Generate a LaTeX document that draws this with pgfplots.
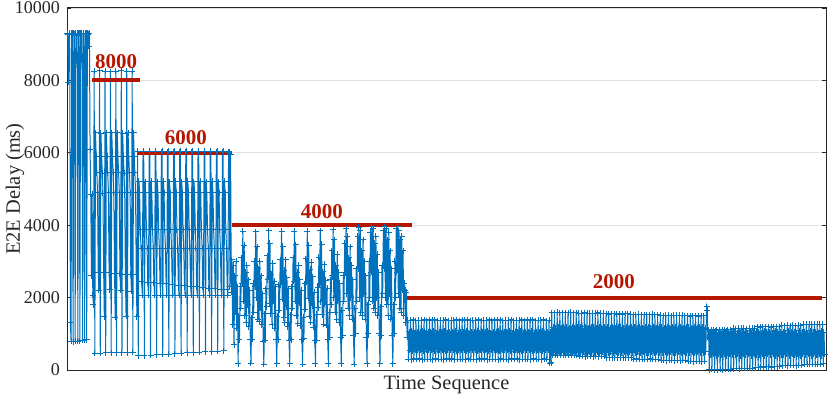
\documentclass[border=0pt]{standalone}
\usepackage{fontspec}
\setmainfont{Liberation Serif}
\usepackage{pgfplots}
\pgfplotsset{compat=1.18}
\definecolor{mblue}{RGB}{0,114,189}
\definecolor{mred}{RGB}{181,22,0}
\definecolor{axgray}{RGB}{38,38,38}
\begin{document}
\begin{tikzpicture}
\path[use as bounding box] (0,0) rectangle (415pt,201pt);
\begin{axis}[
 at={(33.5pt,16pt)}, anchor=south west, scale only axis,
 width=379.5pt, height=181pt,
 xmin=0, xmax=1118, ymin=0, ymax=10000,
 xtick=\empty, ytick={0,2000,4000,6000,8000,10000},
 scaled y ticks=false,
 /pgf/number format/assume math mode=true,
 /pgf/number format/1000 sep={},
 yticklabel style={font=\fontsize{9}{10}\selectfont, text=axgray},
 tick align=inside, major tick length=2pt, tick style={axgray, line width=0.4pt},
 ymajorgrids, grid style={line width=0.4pt, draw=gray!22},
 axis line style={axgray, line width=0.5pt},
 xlabel={Time Sequence}, ylabel={E2E Delay (ms)},
 label style={font=\fontsize{10.2}{12}\selectfont, text=axgray},
 xlabel style={at={(axis description cs:0.5,-0.0414)}, anchor=center},
 ylabel style={at={(axis description cs:-0.0685,0.5)}, anchor=center},
 clip=false,
]
\addplot[mblue, line width=0.5pt, mark=+, mark size=1.5pt, mark options={line width=0.5pt}]
 table[x expr=\coordindex, y index=0, header=false, row sep=\\] {
9300\\9280\\7950\\9300\\9290\\1300\\790\\9300\\9300\\780\\
9300\\9290\\790\\9300\\8580\\9300\\800\\9300\\9300\\805\\
9300\\8710\\9300\\815\\9300\\9290\\830\\9300\\9300\\840\\
9300\\9280\\8950\\9300\\
6100\\4850\\2600\\4850\\2070\\1800\\
8250\\460\\6550\\5900\\5450\\4900\\2700\\2200\\
8260\\465\\6540\\5910\\5440\\4880\\2690\\1470\\
8250\\470\\6560\\5900\\5450\\4900\\2680\\2220\\
8240\\470\\6550\\5890\\5460\\4900\\2670\\1460\\
8250\\475\\6550\\5900\\5450\\4890\\2660\\2200\\
8260\\480\\6540\\5910\\5440\\4900\\2650\\1480\\
8250\\480\\6550\\5900\\5450\\4900\\2640\\2180\\
8250\\485\\6550\\5900\\5450\\4900\\2630\\1470\\
6040\\390\\5210\\4890\\3870\\3370\\2440\\2070\\6030\\
6040\\400\\5200\\4890\\3870\\3370\\2424\\2070\\6030\\
6040\\410\\5210\\4890\\3870\\3370\\2408\\2070\\6030\\
6040\\420\\5200\\4890\\3870\\3370\\2392\\2070\\6030\\
6040\\430\\5210\\4890\\3870\\3370\\2376\\2070\\6030\\
6040\\440\\5200\\4890\\3870\\3370\\2360\\2070\\6030\\
6040\\450\\5210\\4890\\3870\\3370\\2344\\2070\\6030\\
6040\\460\\5200\\4890\\3870\\3370\\2328\\2070\\6030\\
6040\\470\\5210\\4890\\3870\\3370\\2312\\2070\\6030\\
6040\\480\\5200\\4890\\3870\\3370\\2296\\2070\\6030\\
6040\\490\\5210\\4890\\3870\\3370\\2280\\2070\\6030\\
6040\\500\\5200\\4890\\3870\\3370\\2264\\2070\\6030\\
6040\\510\\5210\\4890\\3870\\3370\\2248\\2070\\6030\\
6040\\520\\5200\\4890\\3870\\3370\\2232\\2070\\6030\\
6040\\530\\5210\\4890\\3870\\3370\\2216\\2070\\6030\\
6020\\2300\\5950\\2150\\3050\\1250\\2900\\700\\2600\\1600\\3000\\1150\\2300\\
170\\1500\\830\\2300\\1700\\3100\\2400\\3830\\1900\\3450\\1500\\2700\\1300\\2900\\1800\\2500\\1200\\2200\\830\\
180\\1450\\850\\2400\\1600\\3000\\2300\\3820\\2000\\3400\\1400\\2800\\1350\\3000\\1700\\2600\\1250\\2100\\800\\
160\\1550\\820\\2250\\1750\\3150\\2500\\3840\\1850\\3500\\1550\\2650\\1250\\2950\\1900\\2450\\1150\\2300\\850\\
175\\1480\\840\\2350\\1650\\3050\\2350\\3830\\1950\\3420\\1450\\2750\\1300\\3050\\1750\\2550\\1200\\2250\\820\\
170\\1520\\830\\2300\\1700\\3100\\2450\\3835\\1900\\3460\\1500\\2700\\1280\\2900\\1850\\2500\\1220\\2200\\830\\
165\\1460\\860\\2380\\1680\\3080\\2420\\3830\\1980\\3440\\1480\\2780\\1320\\2980\\1780\\2580\\1180\\2150\\810\\
175\\1540\\820\\2280\\1720\\3120\\2380\\3840\\1880\\3480\\1520\\2720\\1270\\2920\\1820\\2480\\1230\\2260\\840\\
170\\1600\\900\\2500\\1800\\3300\\2600\\3870\\2000\\3600\\1600\\2900\\1400\\3200\\1900\\2700\\1300\\2400\\900\\
170\\1650\\950\\2600\\1900\\3500\\2700\\3900\\2100\\3700\\1700\\3100\\1500\\3400\\2000\\2900\\1400\\2500\\950\\
165\\1700\\1000\\2800\\1900\\3700\\2800\\3950\\2000\\3850\\1600\\3300\\1500\\3600\\2100\\3000\\1400\\2600\\900\\
170\\1800\\1000\\3000\\2000\\3800\\2700\\3960\\1900\\3900\\1700\\3500\\1600\\3700\\2000\\3200\\1500\\2700\\1000\\
175\\1750\\950\\2900\\2100\\3850\\2800\\3960\\2000\\3900\\1800\\3600\\1500\\3800\\2100\\3300\\1400\\2800\\950\\
170\\1800\\1000\\3000\\2000\\3900\\2700\\3960\\2100\\3850\\1700\\3600\\1600\\3700\\2200\\3300\\1500\\2400\\2200\\
1300\\2150\\900\\
1380\\300\\1050\\550\\1370\\290\\1080\\520\\1390\\310\\1030\\560\\1360\\295\\1060\\540\\
1380\\305\\1050\\550\\1375\\290\\1080\\520\\1390\\300\\1030\\560\\1365\\295\\1060\\540\\
1385\\300\\1050\\550\\1370\\285\\1080\\520\\1390\\310\\1030\\560\\1360\\300\\1060\\540\\
1380\\300\\1050\\550\\1370\\290\\1080\\520\\1390\\310\\1030\\560\\1360\\295\\1060\\540\\
1380\\305\\1050\\550\\1375\\290\\1080\\520\\1390\\300\\1030\\560\\1365\\295\\1060\\540\\
1385\\300\\1050\\550\\1370\\285\\1080\\520\\1390\\310\\1030\\560\\1360\\300\\1060\\540\\
1380\\300\\1050\\550\\1370\\290\\1080\\520\\1390\\310\\1030\\560\\1360\\295\\1060\\540\\
1380\\305\\1050\\550\\1375\\290\\1080\\520\\1390\\300\\1030\\560\\1365\\295\\1060\\540\\
1385\\300\\1050\\550\\1370\\285\\1080\\520\\1390\\310\\1030\\560\\1360\\300\\1060\\540\\
1380\\300\\1050\\550\\1370\\290\\1080\\520\\1390\\310\\1030\\560\\1360\\295\\1060\\540\\
1380\\305\\1050\\550\\1375\\290\\1080\\520\\1390\\300\\1030\\560\\1365\\295\\1060\\540\\
1385\\300\\1050\\550\\1370\\285\\1080\\520\\1390\\310\\1030\\560\\1360\\300\\1060\\540\\
1380\\300\\1050\\550\\1370\\290\\1080\\520\\1390\\310\\1030\\560\\1360\\295\\1060\\540\\
1380\\190\\1050\\200\\
1585\\410\\1180\\480\\1580\\415\\1150\\500\\1590\\405\\1200\\460\\1585\\410\\1170\\490\\1580\\412\\1190\\470\\
1588\\408\\1180\\480\\1582\\415\\1150\\500\\1590\\405\\1200\\460\\1585\\410\\1170\\490\\1580\\412\\1190\\470\\
1570\\375\\1180\\480\\1565\\380\\1150\\500\\1575\\370\\1200\\460\\1570\\375\\1170\\490\\1565\\378\\1190\\470\\
1572\\372\\1180\\480\\1566\\380\\1150\\500\\1575\\370\\1200\\460\\1570\\375\\1170\\490\\1565\\378\\1190\\470\\
1550\\340\\1180\\480\\1545\\345\\1150\\500\\1555\\335\\1200\\460\\1550\\340\\1170\\490\\1545\\342\\1190\\470\\
1552\\338\\1180\\480\\1546\\345\\1150\\500\\1555\\335\\1200\\460\\1550\\340\\1170\\490\\1545\\342\\1190\\470\\
1530\\300\\1180\\480\\1525\\305\\1150\\500\\1535\\295\\1200\\460\\1530\\300\\1170\\490\\1525\\302\\1190\\470\\
1532\\298\\1180\\480\\1526\\305\\1150\\500\\1535\\295\\1200\\460\\1530\\300\\1170\\490\\1525\\302\\1190\\470\\
1510\\265\\1180\\480\\1505\\270\\1150\\500\\1515\\260\\1200\\460\\1510\\265\\1170\\490\\1505\\268\\1190\\470\\
1512\\262\\1180\\480\\1506\\270\\1150\\500\\1515\\260\\1200\\460\\1510\\265\\1170\\490\\1505\\268\\1190\\470\\
1495\\235\\1180\\480\\1490\\240\\1150\\500\\1498\\230\\1200\\460\\1495\\235\\1170\\490\\1490\\238\\1190\\470\\
1495\\232\\1180\\480\\1492\\235\\1150\\500\\
1750\\1650\\900\\
1110\\10\\1050\\420\\1105\\15\\1020\\450\\1112\\5\\1080\\400\\1108\\12\\1040\\430\\1110\\18\\1050\\420\\
1106\\8\\1020\\450\\1112\\14\\1080\\400\\1108\\20\\1040\\430\\1110\\22\\1050\\420\\
1150\\40\\1050\\420\\1145\\45\\1020\\450\\1152\\38\\1080\\400\\1148\\48\\1040\\430\\1150\\50\\1050\\420\\
1146\\42\\1020\\450\\1152\\47\\1080\\400\\1148\\55\\1040\\430\\1150\\58\\1050\\420\\
1190\\80\\1050\\420\\1185\\85\\1020\\450\\1192\\78\\1080\\400\\1188\\88\\1040\\430\\1190\\90\\1050\\420\\
1186\\82\\1020\\450\\1192\\87\\1080\\400\\1188\\95\\1040\\430\\1190\\98\\1050\\420\\
1230\\120\\1050\\420\\1225\\125\\1020\\450\\1232\\118\\1080\\400\\1228\\128\\1040\\430\\
1230\\130\\1050\\420\\1226\\122\\1020\\450\\1232\\127\\1080\\400\\1228\\135\\1040\\430\\
1265\\155\\1050\\420\\1260\\160\\1020\\450\\1268\\152\\1080\\400\\1262\\163\\1040\\430\\
1265\\165\\1050\\420\\1260\\158\\1020\\450\\1270\\162\\1080\\400\\1265\\168\\1040\\430\\
};
\addplot[mred, line width=2pt] coordinates {(36.8,8000) (107.5,8000)};
\addplot[mred, line width=2pt] coordinates {(103,6000) (243,6000)};
\addplot[mred, line width=2pt] coordinates {(243,4000) (508,4000)};
\addplot[mred, line width=2pt] coordinates {(500.7,2000) (1112,2000)};
\node[text=mred, font=\bfseries\fontsize{10.5}{12}\selectfont] at (axis cs:72.2,8528) {8000};
\node[text=mred, font=\bfseries\fontsize{10.5}{12}\selectfont] at (axis cs:175,6425) {6000};
\node[text=mred, font=\bfseries\fontsize{10.5}{12}\selectfont] at (axis cs:375.6,4380) {4000};
\node[text=mred, font=\bfseries\fontsize{10.5}{12}\selectfont] at (axis cs:805.6,2434) {2000};
\end{axis}
\end{tikzpicture}
\end{document}
